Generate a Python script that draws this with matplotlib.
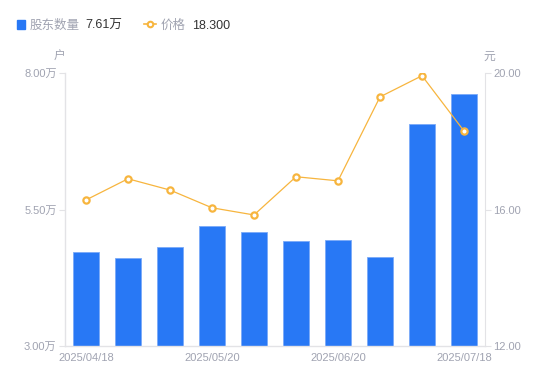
import numpy as np
import matplotlib
matplotlib.use("Agg")
import matplotlib.pyplot as plt
from matplotlib.lines import Line2D

plt.rcParams['font.family'] = ['Liberation Sans', 'Noto Sans CJK SC', 'DejaVu Sans']

# dados
datas = ['2025/04/18', '2025/04/30', '2025/05/09', '2025/05/20', '2025/05/30',
         '2025/06/10', '2025/06/20', '2025/06/30', '2025/07/10', '2025/07/18']
holders = [4.72, 4.61, 4.81, 5.20, 5.09, 4.92, 4.94, 4.63, 7.07, 7.61]  # 万户
price = [16.28, 16.90, 16.57, 16.05, 15.84, 16.96, 16.84, 19.30, 19.92, 18.30]
yticks_left = [3.00, 5.50, 8.00]
yticks_right = [12.00, 16.00, 20.00]

blue = '#2878f5'
orange = '#f7b53e'
grey = '#a0a3b1'
axcol = '#e3e3e6'

fig = plt.figure(figsize=(5.5, 3.81), dpi=100)
ax = fig.add_axes([65/550, 35/381, 420/550, 273/381])
x = np.arange(len(datas))
ax.bar(x, holders, width=0.6, color=blue, edgecolor='#7aaaf8', linewidth=0.6,
       bottom=0, zorder=2)
ax.set_ylim(3, 8)
ax.set_xlim(-0.5, len(datas) - 0.5)
ax.set_yticks(yticks_left)
ax.set_yticklabels([f'{v:.2f}万' for v in yticks_left])
ax.set_xticks(x[::3])
ax.set_xticklabels([datas[i] for i in x[::3]])
ax.tick_params(axis='x', length=0, pad=5, labelsize=8, colors=grey)
ax.tick_params(axis='y', length=4, width=0.8, color=axcol, pad=2,
               labelsize=8, labelcolor=grey)
for s in ['top', 'right']:
    ax.spines[s].set_visible(False)
for s in ['left', 'bottom']:
    ax.spines[s].set_color(axcol)
    ax.spines[s].set_linewidth(1)

ax2 = ax.twinx()
ax2.plot(x, price, color=orange, lw=0.9, marker='o', ms=4.5,
         mfc='white', mec=orange, mew=1.6, zorder=3)
ax2.set_ylim(12, 20)
ax2.set_yticks(yticks_right)
ax2.set_yticklabels([f'{v:.2f}' for v in yticks_right])
ax2.tick_params(axis='y', length=4, width=0.8, color=axcol, pad=2,
                labelsize=8, labelcolor=grey)
for s in ['top', 'left', 'bottom']:
    ax2.spines[s].set_visible(False)
ax2.spines['right'].set_color(axcol)

# títulos dos eixos
fig.text(59/550, 1 - 57/381, '户', ha='center', va='center', fontsize=8.5, color=grey)
fig.text(489/550, 1 - 57/381, '元', ha='center', va='center', fontsize=8.5, color=grey)

# legenda manual
ly = 1 - 24/381
ty = 1 - 26/381
fig.patches.append(plt.Rectangle((17/550, ly - 4.5/381), 8/550, 9/381,
                                 transform=fig.transFigure, color=blue))
fig.text(30/550, ty, '股东数量', ha='left', va='center', fontsize=9, color=grey)
fig.text(85/550, ty, f'{holders[-1]:.2f}万', ha='left', va='center', fontsize=9, color='#333333')
fig.add_artist(Line2D([144/550, 156/550], [ly, ly], transform=fig.transFigure,
                      color=orange, lw=1.2))
fig.add_artist(Line2D([150/550], [ly], transform=fig.transFigure,
                      color=orange, marker='o', ms=4, mfc='white', mec=orange, mew=1.5))
fig.text(161/550, ty, '价格', ha='left', va='center', fontsize=9, color=grey)
fig.text(192/550, ty, f'{price[-1]:.3f}', ha='left', va='center', fontsize=9, color='#333333')

fig.savefig('out.png', dpi=100)
